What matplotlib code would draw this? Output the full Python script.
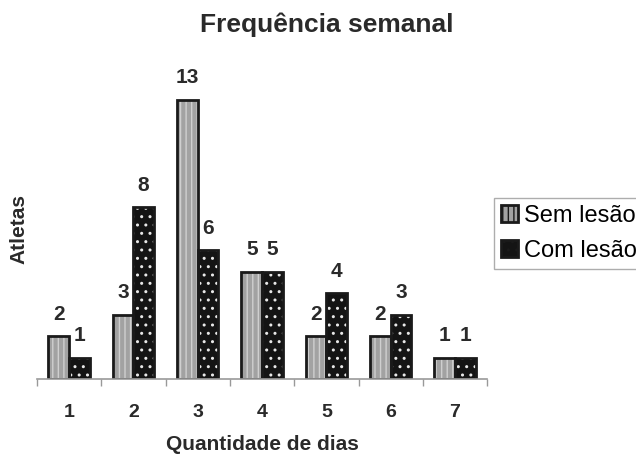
import matplotlib.pyplot as plt
import numpy as np

dias = ['1', '2', '3', '4', '5', '6', '7']
sem_lesao = [2, 3, 13, 5, 2, 2, 1]
com_lesao = [1, 8, 6, 5, 4, 3, 1]

plt.rcParams['font.family'] = ['Liberation Sans', 'DejaVu Sans']
plt.rcParams['hatch.linewidth'] = 1.0

cor_texto = '#2a2a2a'

fig = plt.figure(figsize=(6.36, 4.59), dpi=100)
ax = fig.add_axes([0.058, 0.174, 0.708, 0.656])

x = np.arange(len(dias))
w = 0.32

# preenchimento com textura
b1 = ax.bar(x - w / 2, sem_lesao, w, facecolor='#a2a2a2', edgecolor='#cfcfcf',
            hatch='|||', linewidth=0, label='Sem lesão')
b2 = ax.bar(x + w / 2, com_lesao, w, facecolor='#141414', edgecolor='#e8e8e8',
            hatch='..', linewidth=0, label='Com lesão')
# contornos
ax.bar(x - w / 2, sem_lesao, w, fill=False, edgecolor='#1a1a1a', linewidth=2)
ax.bar(x + w / 2, com_lesao, w, fill=False, edgecolor='#1a1a1a', linewidth=2)

for xi, v in zip(x, sem_lesao):
    ax.annotate(str(v), (xi - w / 2, v), xytext=(0, 9), textcoords='offset points',
                ha='center', va='bottom', fontsize=15, fontweight='bold', color=cor_texto)
for xi, v in zip(x, com_lesao):
    ax.annotate(str(v), (xi + w / 2, v), xytext=(0, 9), textcoords='offset points',
                ha='center', va='bottom', fontsize=15, fontweight='bold', color=cor_texto)

ax.set_xlim(-0.5, len(dias) - 0.5)
ax.set_ylim(0, 14)
ax.set_yticks([])
for s in ['top', 'right', 'left']:
    ax.spines[s].set_visible(False)
ax.spines['bottom'].set_color('#999999')
ax.spines['bottom'].set_linewidth(1.2)

ax.set_xticks(x)
ax.set_xticklabels(dias, fontsize=14, fontweight='bold', color=cor_texto)
ax.tick_params(axis='x', which='major', length=0, pad=18)
ax.set_xticks(np.arange(len(dias) + 1) - 0.5, minor=True)
ax.tick_params(axis='x', which='minor', length=5, color='#999999', width=1)

ax.set_xlabel('Quantidade de dias', fontsize=15, fontweight='bold',
              color=cor_texto, labelpad=10)
ax.set_ylabel('Atletas', fontsize=15, fontweight='bold', color=cor_texto,
              labelpad=6)
fig.text(0.513, 0.945, 'Frequência semanal', fontsize=19, fontweight='bold',
         color=cor_texto, ha='center', va='center')

leg = fig.legend(handles=[b1, b2], loc='upper left', bbox_to_anchor=(0.777, 0.569),
                 fontsize=17, frameon=True, fancybox=False, edgecolor='#999999',
                 handlelength=0.7, handleheight=0.7, handletextpad=0.25,
                 borderpad=0.3, labelspacing=0.55, borderaxespad=0)
leg.get_frame().set_linewidth(1)
for h in leg.legend_handles:
    h.set_linewidth(2)
    h.set_edgecolor('#1a1a1a')

fig.savefig('out.png', dpi=100)
